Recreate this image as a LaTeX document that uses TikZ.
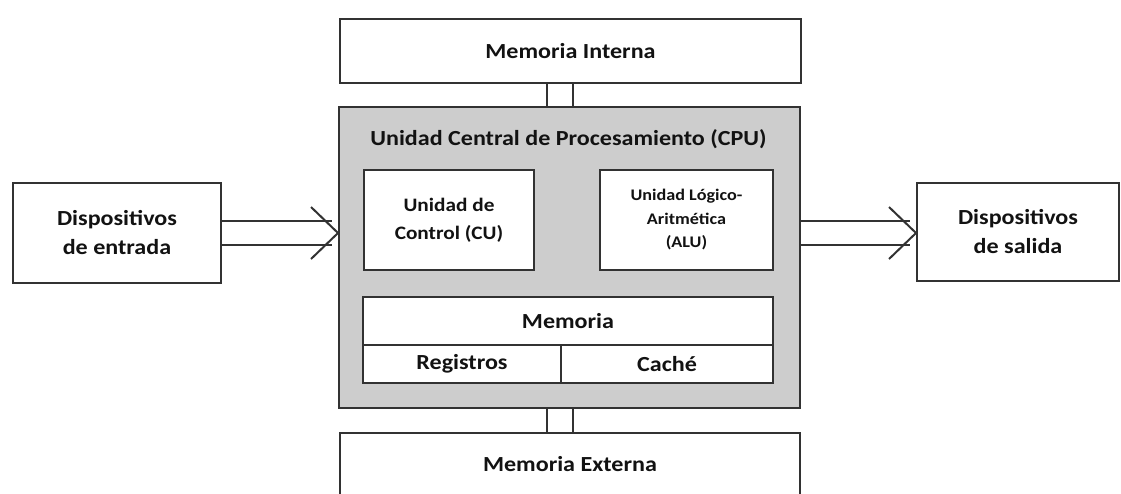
\documentclass[tikz,border=0pt]{standalone}
\usepackage{fontspec}
\newfontfamily\diagfont{Carlito}[FakeStretch=1.12]
\usetikzlibrary{calc}

\definecolor{edge}{RGB}{50,50,50}
\definecolor{cpufill}{RGB}{205,205,205}
\definecolor{ink}{RGB}{18,18,18}

\tikzset{
  box/.style={draw=edge, line width=2pt, fill=white, inner sep=0pt,
              align=center, text=ink},
  bigtext/.style={font=\diagfont\bfseries\fontsize{21.5}{29}\selectfont},
  midtext/.style={font=\diagfont\bfseries\fontsize{19}{28}\selectfont},
  smalltext/.style={font=\diagfont\bfseries\fontsize{16.2}{23.5}\selectfont},
  wire/.style={draw=edge, line width=2pt},
}

% double-line arrow: #1 start point, #2 tip
\newcommand{\busarrow}[2]{%
  \draw[wire] ($(#1)+(0,-12)$) -- ($(#2)+(-6,-12)$);
  \draw[wire] ($(#1)+(0,12)$) -- ($(#2)+(-6,12)$);
  \draw[wire, line join=miter] ($(#2)+(-27,-26)$) -- (#2) -- ($(#2)+(-27,26)$);
}

\begin{document}
\begin{tikzpicture}[x=1pt, y=-1pt]
\useasboundingbox (0,0) rectangle (1121,493);
\clip (0,0) rectangle (1121,493);

% outer blocks
\node[box, bigtext, minimum width=461pt, minimum height=64pt] (mi) at (570.5,51) {Memoria Interna};
\node[box, fill=cpufill, minimum width=461pt, minimum height=301pt] (cpu) at (569.5,257.5) {};
\node[box, bigtext, minimum width=460pt, minimum height=62pt] (me) at (570,464) {Memoria Externa};
\node[box, bigtext, minimum width=208pt, minimum height=100pt] (din) at (117,233) {Dispositivos\\de entrada};
\node[box, bigtext, minimum width=202pt, minimum height=98pt] (dout) at (1018,232) {Dispositivos\\de salida};

% inside the CPU
\node[bigtext, text=ink, inner sep=0pt] (cputitle) at ($(cpu.north)+(-1,33)$) {Unidad Central de Procesamiento (CPU)};
\node[box, midtext, minimum width=170pt, minimum height=100pt] (cu) at (449,220) {Unidad de\\Control (CU)};
\node[box, smalltext, minimum width=173pt, minimum height=100pt] (alu) at (686.5,220) {Unidad Lógico-\\Aritmética\\(ALU)};
\node[box, bigtext, minimum width=410pt, minimum height=48pt] (memhead) at (568,321) {Memoria};
\node[box, bigtext, minimum width=198pt, minimum height=38pt] (reg) at (462,364) {Registros};
\node[box, bigtext, minimum width=212pt, minimum height=38pt] (cache) at (667,364) {Caché};

% memory buses
\coordinate (busa) at (547,0);
\coordinate (busb) at (573,0);
\draw[wire] (mi.south -| busa) -- (cpu.north -| busa);
\draw[wire] (mi.south -| busb) -- (cpu.north -| busb);
\draw[wire] (cpu.south -| busa) -- (me.north -| busa);
\draw[wire] (cpu.south -| busb) -- (me.north -| busb);

% input and output arrows
\coordinate (intip) at (cpu.west |- din.east);
\coordinate (outstart) at (cpu.east |- din.east);
\coordinate (outtip) at (dout.west |- din.east);
\busarrow{din.east}{intip}
\busarrow{outstart}{outtip}
\end{tikzpicture}
\end{document}
